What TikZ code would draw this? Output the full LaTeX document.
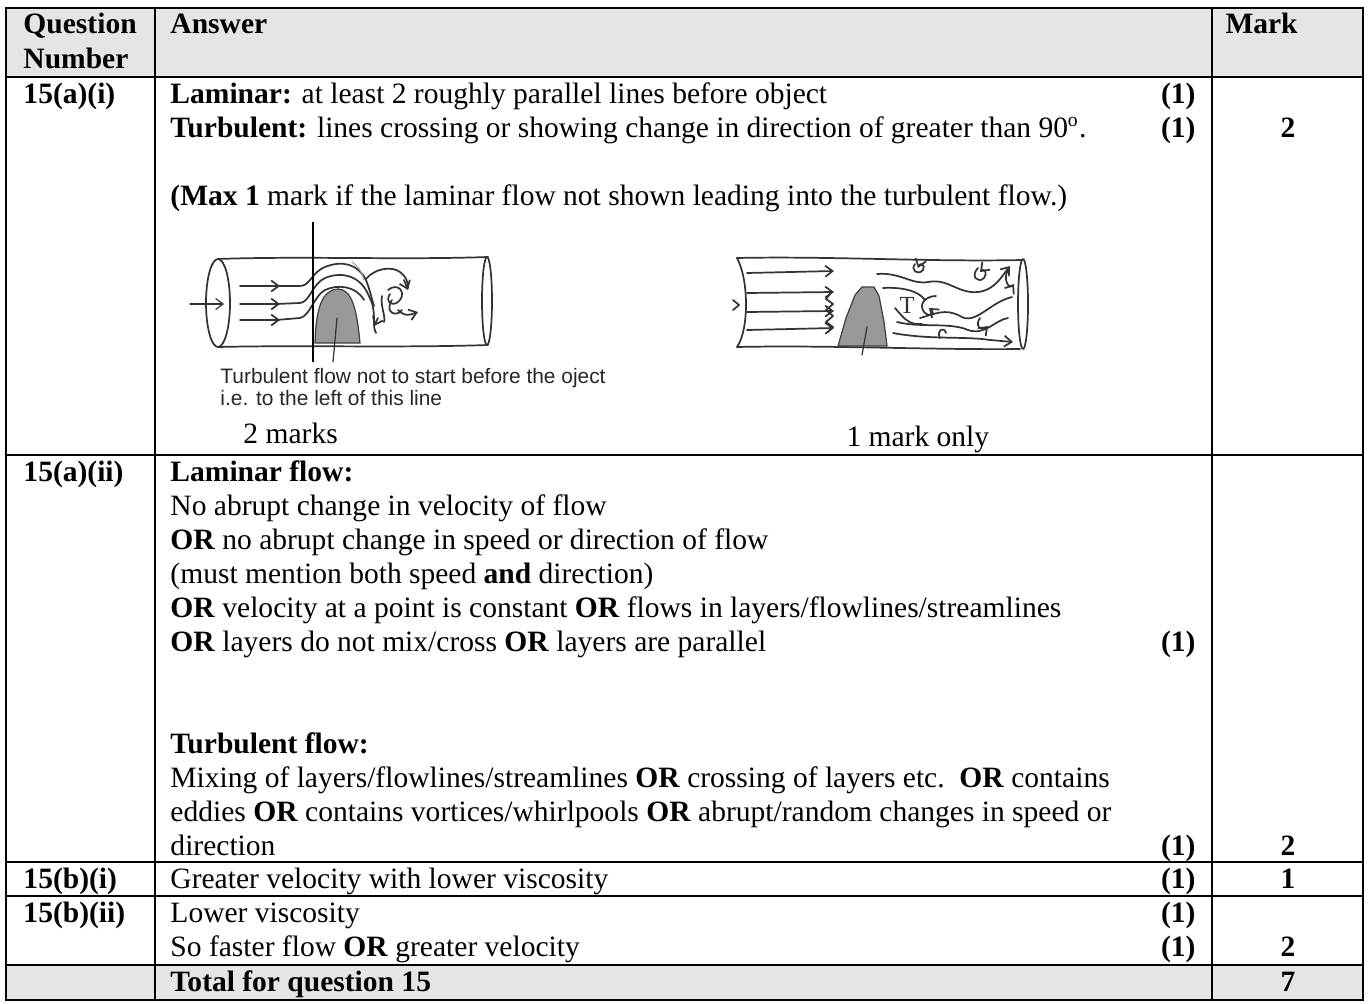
\documentclass[tikz,border=0pt]{standalone}
\usepackage{fontspec}
\setmainfont{Liberation Serif}
\newfontfamily\capfont{Liberation Sans}
\usetikzlibrary{arrows.meta}

\tikzset{
  txt/.style={anchor=base west, inner sep=0pt, font=\fontsize{12}{14}\selectfont},
  btxt/.style={txt, font=\fontsize{12}{14}\selectfont\bfseries},
  onemark/.style={anchor=base east, inner sep=0pt, font=\fontsize{12}{14}\selectfont\bfseries},
  total/.style={anchor=base, inner sep=0pt, font=\fontsize{12}{14}\selectfont\bfseries},
  rule/.style={line width=0.85pt, line cap=rect},
  sketch/.style={draw=black!80, line width=0.7pt, line cap=round, line join=round},
  barb/.style={-{Straight Barb[length=3pt,width=4.5pt]}},
  capt/.style={anchor=base west, inner sep=0pt, font=\capfont\fontsize{8.5}{10}\selectfont, text=black!85}
}

\begin{document}
\begin{tikzpicture}[x=0.4065pt, y=-0.4065pt]
    \useasboundingbox (0,0) rectangle (1369,1003);

    % Shaded rows
    \fill[black!10] (6,8) rectangle (1363,77);
    \fill[black!10] (6,965) rectangle (1363,1000);

    % Table rules
    \foreach \y in {8,77,455,862,896,965,1000}
        \draw[rule] (6,\y) -- (1363,\y);
    \foreach \x in {6,155,1212,1363}
        \draw[rule] (\x,8) -- (\x,1000);

    % Header
    \node[btxt] (hq) at (23,34) {Question};
    \node[btxt] (hn) at (23,68) {Number};
    \node[btxt] (ha) at (170,34) {Answer};
    \node[btxt] (hm) at (1225,34) {Mark};

    % Question numbers
    \foreach \y/\q [count=\i] in {103/15(a)(i), 481/15(a)(ii), 888/15(b)(i), 922/15(b)(ii)}
        \node[btxt] (q\i) at (23,\y) {\q};

    % 15(a)(i)
    \node[txt] (lam) at (170,103) {\textbf{Laminar:} at least 2 roughly parallel lines before object};
    \node[txt] (tur) at (170,137) {\textbf{Turbulent:} lines crossing or showing change in direction of greater than 90\textsuperscript{o}.};
    \node[txt] (max) at (170,205) {\textbf{(Max 1} mark if the laminar flow not shown leading into the turbulent flow.)};
    \node[txt] (two) at (243,443) {2 marks};
    \node[txt] (one) at (846,446) {1 mark only};

    % 15(a)(ii)
    \foreach \y/\txt [count=\i] in {481/{\textbf{Laminar flow:}},
        515/{No abrupt change in velocity of flow},
        549/{\textbf{OR} no abrupt change in speed or direction of flow},
        583/{(must mention both speed \textbf{and} direction)},
        617/{\textbf{OR} velocity at a point is constant \textbf{OR} flows in layers/flowlines/streamlines},
        651/{\textbf{OR} layers do not mix/cross \textbf{OR} layers are parallel},
        753/{\textbf{Turbulent flow:}},
        787/{Mixing of layers/flowlines/streamlines \textbf{OR} crossing of layers etc.\ \ \textbf{OR} contains},
        821/{eddies \textbf{OR} contains vortices/whirlpools \textbf{OR} abrupt/random changes in speed or},
        855/{direction}}
        \node[txt] (ans\i) at (170,\y) {\txt};

    % 15(b)
    \node[txt] (bi) at (170,888) {Greater velocity with lower viscosity};
    \node[txt] (bii1) at (170,922) {Lower viscosity};
    \node[txt] (bii2) at (170,956) {So faster flow \textbf{OR} greater velocity};
    \node[btxt] (tot) at (170,991) {Total for question 15};

    % Marks in brackets
    \foreach \y [count=\i] in {103,137,651,855,888,922,956}
        \node[onemark] (pt\i) at (1196,\y) {(1)};

    % Mark column
    \foreach \y/\m [count=\i] in {137/2, 855/2, 888/1, 956/2, 991/7}
        \node[total] (mk\i) at (1288,\y) {\m};

    % Left sketch: tube with object
    \draw[sketch] (218,303) ellipse (12 and 44);
    \draw[sketch] (218,259) .. controls (300,256) and (400,260) .. (488,257);
    \draw[sketch] (218,347) .. controls (300,345) and (400,348) .. (488,345);
    \draw[sketch] (487,301) ellipse (5 and 44);
    \draw[sketch, line width=0.5pt, barb] (190,304) -- (224,304);
    \foreach \y in {286,304,320}
        \draw[sketch, barb] (240,\y) -- (280,\y);
    \fill[black!40, draw=black!75, line width=0.5pt] (315,343) .. controls (316,308) and (322,290) .. (338,289) .. controls (352,289) and (357,310) .. (360,343) -- cycle;
    \draw[sketch] (276,286) -- (300,286) .. controls (310,286) and (312,272) .. (325,267) .. controls (342,260) and (358,264) .. (366,280) .. controls (370,290) and (372,300) .. (374,306);
    \draw[sketch] (276,304) -- (300,303) .. controls (310,302) and (312,284) .. (325,278) .. controls (342,271) and (360,276) .. (368,294) -- (372,303);
    \draw[sketch] (276,320) -- (300,318) .. controls (310,316) and (314,296) .. (325,290) .. controls (338,284) and (356,286) .. (364,300);
    \draw[sketch] (366,279) .. controls (375,268) and (392,266) .. (400,272) .. controls (406,276) and (408,282) .. (408,288);
    \draw[sketch, barb] (404,280) -- (408,290);
    \draw[sketch] (372,303) .. controls (376,318) and (372,326) .. (376,333);
    \draw[sketch, barb] (378,318) -- (374,326);
    \draw[sketch] (388,290) .. controls (398,282) and (406,292) .. (400,300) .. controls (394,308) and (384,302) .. (390,294);
    \draw[sketch] (392,300) .. controls (384,312) and (396,318) .. (402,310);
    \draw[sketch, barb] (398,310) .. controls (406,318) and (412,314) .. (418,312);
    \draw[sketch] (382,296) .. controls (380,306) and (386,316) .. (384,322);
    \draw[sketch, black!40, line width=0.4pt] (352,262) .. controls (358,266) and (362,272) .. (364,280);
    \draw[sketch, line width=0.5pt] (337,318) -- (333,362);
    \draw[line width=0.6pt] (313,222) -- (313,362);
    \node[capt] (cap1) at (220,383) {Turbulent flow not to start before the oject};
    \node[capt] (cap2) at (220,405) {i.e. to the left of this line};

    % Right sketch: tube with object
    \draw[sketch] (737,258) .. controls (830,256) and (930,262) .. (1022,260);
    \draw[sketch] (737,347) .. controls (830,345) and (930,350) .. (1020,349);
    \draw[sketch] (737,258) .. controls (749,280) and (749,330) .. (737,347);
    \draw[sketch] (1023,304) ellipse (5 and 45);
    \draw[sketch] (733,300) -- (739,305) -- (733,310);
    \foreach \y/\d in {273/-2, 293/-1, 312/-1, 330/-2}
        \draw[sketch, barb] (747,\y) -- (834,\y+\d);
    \draw[sketch] (830,294) -- (826,299) -- (833,304) -- (826,310) -- (833,316) -- (826,322) -- (833,327) -- (828,332);
    \fill[black!40, draw=black!75, line width=0.5pt] (838,346) -- (846,318) -- (855,295) -- (862,287) -- (874,287) -- (879,296) -- (884,322) -- (887,346) -- cycle;
    \draw[sketch, line width=0.5pt] (867,327) -- (862,355);
    \draw[sketch, barb] (877,274) .. controls (900,272) and (912,285) .. (928,282) .. controls (948,278) and (958,294) .. (978,292) .. controls (995,290) and (1002,276) .. (1010,266);
    \draw[sketch] (883,288) .. controls (900,287) and (918,290) .. (925,300);
    \draw[sketch, barb] (936,296) .. controls (926,296) and (918,304) .. (924,312) .. controls (930,318) and (936,314) .. (929,308);
    \draw[sketch] (920,318) .. controls (935,314) and (945,308) .. (960,316) .. controls (975,326) and (990,302) .. (1012,297);
    \draw[sketch] (895,308) .. controls (905,320) and (910,325) .. (922,324);
    \draw[sketch] (897,322) .. controls (920,328) and (950,322) .. (968,330) .. controls (985,336) and (995,320) .. (1008,318);
    \draw[sketch, barb] (893,333) .. controls (930,340) and (965,336) .. (990,340) -- (1013,342);
    \draw[sketch, barb] (915,264) .. controls (910,270) and (918,276) .. (923,270) .. controls (926,265) and (920,262) .. (918,268);
    \draw[sketch, barb] (978,268) .. controls (970,276) and (978,284) .. (984,278) .. controls (988,273) and (984,268) .. (980,272);
    \draw[sketch, barb] (980,318) .. controls (974,326) and (982,332) .. (988,326);
    \draw[sketch, barb] (1008,270) .. controls (1002,280) and (1010,290) .. (1014,284);
    \draw[sketch] (940,338) .. controls (936,330) and (944,326) .. (946,333);
    \node[inner sep=0pt, font=\fontsize{10}{12}\selectfont, text=black!80] (tlab) at (907,305) {T};
\end{tikzpicture}
\end{document}
